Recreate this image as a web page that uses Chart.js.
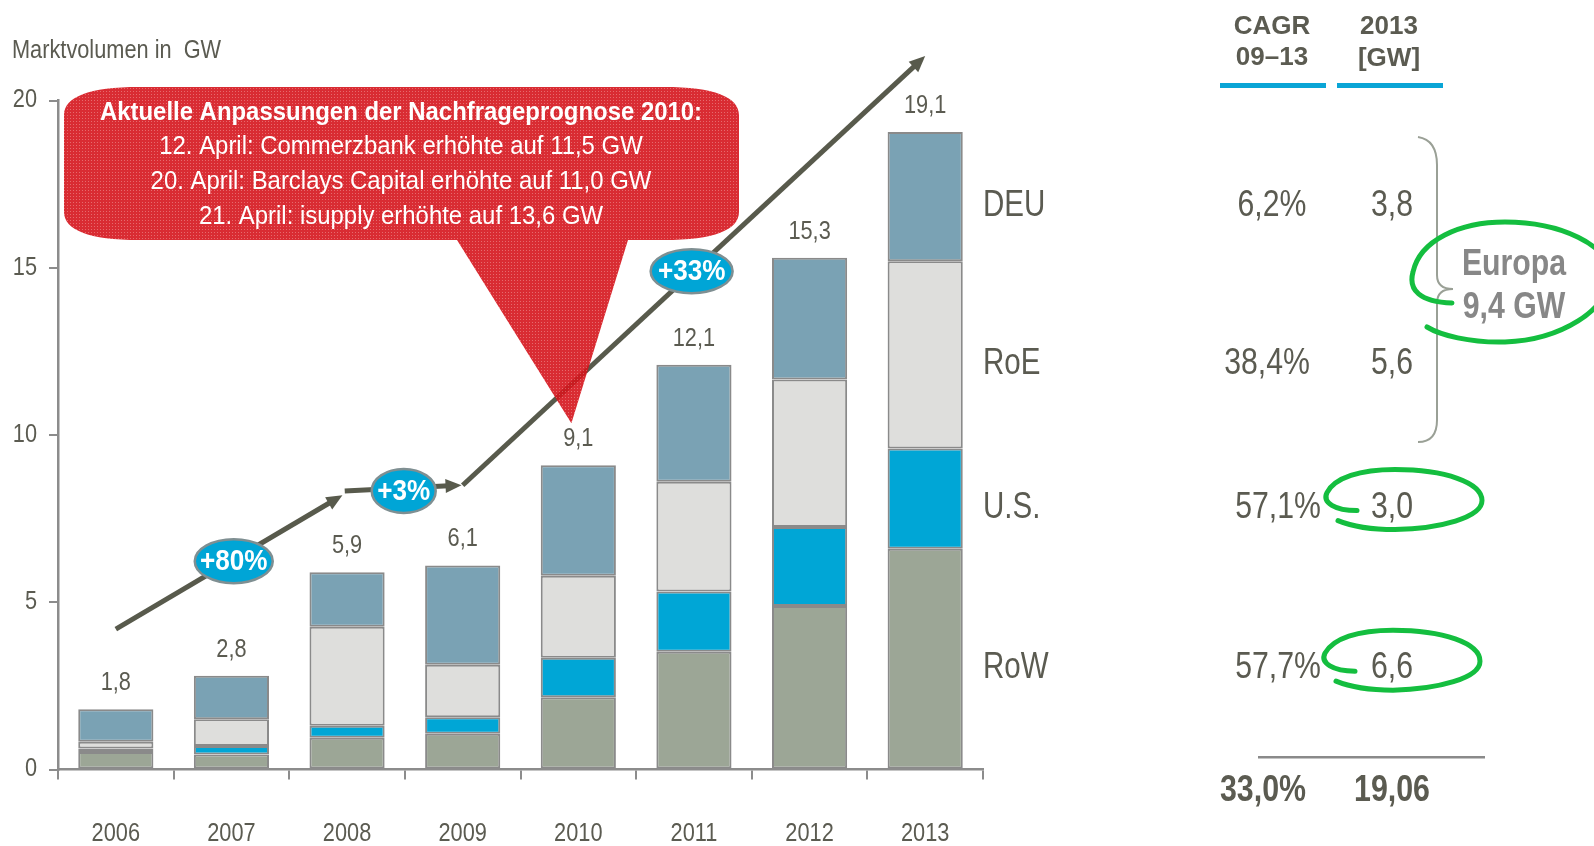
<!DOCTYPE html>
<html><head><meta charset="utf-8">
<script src="https://cdn.jsdelivr.net/npm/chart.js@4.4.1/dist/chart.umd.min.js"></script>
<style>html,body{margin:0;padding:0;background:#fff;overflow:hidden}#wrap{position:relative;width:1594px;height:846px}canvas{display:block}</style>
</head><body><div id="wrap"><canvas id="c" width="1594" height="846"></canvas></div>
<script>
// ---------- data ----------
const years = ['2006','2007','2008','2009','2010','2011','2012','2013'];
const rowValues = [0.52, 0.45, 0.95, 1.07, 2.16, 3.52, 4.89, 6.60];
const usValues  = [0.11, 0.25, 0.36, 0.49, 1.18, 1.80, 2.36, 3.00];
const roeValues = [0.20, 0.80, 2.96, 1.57, 2.45, 3.28, 4.41, 5.60];
const deuValues = [0.97, 1.30, 1.63, 2.97, 3.31, 3.50, 3.64, 3.86];
const seriesNames = ['RoW', 'U.S.', 'RoE', 'DEU'];
const cagrLabels = ['57,7%', '57,1%', '38,4%', '6,2%'];
const gw2013Labels = ['6,6', '3,0', '5,6', '3,8'];
const totalCagr = '33,0%';
const totalGw = '19,06';
const yTickValues = [0, 5, 10, 15, 20];
const growthLabels = ['+80%', '+3%', '+33%'];
const calloutTitle = 'Aktuelle Anpassungen der Nachfrageprognose 2010:';
const calloutLines = ['12. April: Commerzbank erhöhte auf 11,5 GW', '20. April: Barclays Capital erhöhte auf 11,0 GW', '21. April: isupply erhöhte auf 13,6 GW'];
const europaLines = ['Europa', '9,4 GW'];

const TXT = '#5b5b51';
const AX = '#8c8c8c';
const fam = k => 'Nx' + k + ', "Liberation Sans", Arial, sans-serif';
const WIDE = '"Liberation Sans",Arial,sans-serif';

// condensed text rendering (no narrow font installed): families tagged NxNN are drawn horizontally scaled
(function () {
  const P = CanvasRenderingContext2D.prototype;
  const ft = P.fillText, mt = P.measureText;
  P.fillText = function (s, x, y, mw) {
    const m = /Nx(\d+)/.exec(this.font);
    if (!m) return mw === undefined ? ft.call(this, s, x, y) : ft.call(this, s, x, y, mw);
    const k = +m[1] / 100;
    this.save(); this.translate(x, y); this.scale(k, 1); ft.call(this, s, 0, 0); this.restore();
  };
  P.measureText = function (s) {
    const r = mt.call(this, s);
    const m = /Nx(\d+)/.exec(this.font);
    if (!m) return r;
    const k = +m[1] / 100;
    return {width: r.width * k, actualBoundingBoxAscent: r.actualBoundingBoxAscent, actualBoundingBoxDescent: r.actualBoundingBoxDescent,
      actualBoundingBoxLeft: r.actualBoundingBoxLeft * k, actualBoundingBoxRight: r.actualBoundingBoxRight * k};
  };
})();

function txt(ctx, s, x, y, size, opt = {}) {
  ctx.save();
  ctx.font = (opt.bold ? 'bold ' : '') + size + 'px ' + (opt.wide ? WIDE : fam(opt.k || 87));
  ctx.fillStyle = opt.color || TXT;
  ctx.textAlign = opt.align || 'center';
  ctx.textBaseline = 'middle';
  ctx.fillText(s, x, y);
  ctx.restore();
}
function head(ctx, x1, y1, x2, y2, len, w) {
  const a = Math.atan2(y2 - y1, x2 - x1);
  ctx.beginPath();
  ctx.moveTo(x2, y2);
  ctx.lineTo(x2 - len * Math.cos(a) + w * Math.sin(a), y2 - len * Math.sin(a) - w * Math.cos(a));
  ctx.lineTo(x2 - len * Math.cos(a) - w * Math.sin(a), y2 - len * Math.sin(a) + w * Math.cos(a));
  ctx.closePath();
  ctx.fill();
}
function arrow(ctx, x1, y1, x2, y2) {
  const a = Math.atan2(y2 - y1, x2 - x1);
  const len = 16;
  ctx.beginPath();
  ctx.moveTo(x1, y1);
  ctx.lineTo(x2 - len * 0.8 * Math.cos(a), y2 - len * 0.8 * Math.sin(a));
  ctx.stroke();
  head(ctx, x1, y1, x2, y2, len, 7);
}
function handEllipse(ctx, cx, cy) {
  ctx.beginPath();
  ctx.moveTo(cx - 38, cy + 3);
  ctx.bezierCurveTo(cx - 60, cy + 3, cx - 73, cy - 5, cx - 68, cy - 15);
  ctx.bezierCurveTo(cx - 60, cy - 30, cx - 35, cy - 38, cx, cy - 38);
  ctx.bezierCurveTo(cx + 50, cy - 38, cx + 87, cy - 25, cx + 87, cy - 7);
  ctx.bezierCurveTo(cx + 87, cy + 10, cx + 45, cy + 21, cx, cy + 22);
  ctx.bezierCurveTo(cx - 25, cy + 22, cx - 45, cy + 18, cx - 57, cy + 13);
  ctx.stroke();
}

const overlay = {
  id: 'overlay',
  afterDraw(chart) {
    const ctx = chart.ctx;
    const xs = chart.scales.x, ys = chart.scales.y;
    const X = v => xs.getPixelForValue(v), Y = v => ys.getPixelForValue(v);
    const ca = chart.chartArea;

    // title
    txt(ctx, 'Marktvolumen in  GW', 12, 51, 25, {align: 'left', k: 87});

    // totals above bars
    years.forEach((y, i) => {
      const t = rowValues[i] + usValues[i] + roeValues[i] + deuValues[i];
      txt(ctx, t.toFixed(1).replace('.', ','), X(i), Y(t) - 26, 25, {k: 87});
    });

    // growth arrow
    ctx.save();
    ctx.strokeStyle = '#585a4c'; ctx.fillStyle = '#585a4c';
    ctx.lineWidth = 5; ctx.lineCap = 'butt';
    arrow(ctx, X(0), Y(4.2), X(1.96), Y(8.2));
    arrow(ctx, X(1.98), Y(8.33), X(2.99), Y(8.5));
    arrow(ctx, X(3.0), Y(8.5), X(7.0), Y(21.33));
    ctx.restore();

    // growth bubbles
    const bub = [[1.02, 6.23, 39], [2.49, 8.33, 32], [4.98, 14.9, 41]];
    bub.forEach((b, i) => {
      ctx.save();
      ctx.beginPath();
      ctx.ellipse(X(b[0]), Y(b[1]), b[2], 22, 0, 0, Math.PI * 2);
      ctx.fillStyle = '#00a5d6'; ctx.fill();
      ctx.strokeStyle = '#7f8f92'; ctx.lineWidth = 2.5; ctx.stroke();
      ctx.restore();
      txt(ctx, growthLabels[i], X(b[0]), Y(b[1]) + 1, 29, {bold: true, color: '#ffffff', k: 90});
    });

    // red callout
    const pc = document.createElement('canvas'); pc.width = 3; pc.height = 3;
    const pctx = pc.getContext('2d');
    pctx.fillStyle = '#d5161d'; pctx.fillRect(0, 0, 3, 3);
    pctx.fillStyle = '#e45a5e'; pctx.fillRect(1, 1, 1, 1);
    const pat = ctx.createPattern(pc, 'repeat');
    const L = 64, R = 739, T = 87, B = 240, rx = 75, ry = 28;
    ctx.save();
    ctx.globalAlpha = 0.9;
    ctx.beginPath();
    ctx.moveTo(L + rx, T);
    ctx.lineTo(R - rx, T);
    ctx.bezierCurveTo(R - 25, T, R, T + 10, R, T + ry);
    ctx.lineTo(R, B - ry);
    ctx.bezierCurveTo(R, B - 10, R - 25, B, R - rx, B);
    ctx.lineTo(628, B);
    ctx.lineTo(X(3.94), Y(10.35));
    ctx.lineTo(457, B);
    ctx.lineTo(L + rx, B);
    ctx.bezierCurveTo(L + 25, B, L, B - 10, L, B - ry);
    ctx.lineTo(L, T + ry);
    ctx.bezierCurveTo(L, T + 10, L + 25, T, L + rx, T);
    ctx.closePath();
    ctx.fillStyle = pat; ctx.fill();
    ctx.restore();
    txt(ctx, calloutTitle, 401, 113, 26, {bold: true, color: '#ffffff', k: 92});
    calloutLines.forEach((s, i) => txt(ctx, s, 401, 147 + i * 35, 26, {color: '#ffffff', k: 92}));

    // series labels + table rows anchored to 2013 stack
    const last = years.length - 1;
    const stacks = [rowValues, usValues, roeValues, deuValues];
    let cum = 0;
    const cagrX = [1278, 1278, 1267, 1272];
    const rowY = [];
    stacks.forEach((arr, k) => {
      const mid = cum + arr[last] / 2; cum += arr[last];
      const yy = Y(mid) + 9; rowY.push(yy);
      txt(ctx, seriesNames[k], ca.right, yy, 36, {align: 'left', k: 82});
      txt(ctx, cagrLabels[k], cagrX[k], yy, 36, {k: 84});
      txt(ctx, gw2013Labels[k], 1392, yy, 36, {k: 84});
    });

    // headers
    txt(ctx, 'CAGR', 1272, 27, 26, {bold: true, wide: true});
    txt(ctx, '09–13', 1272, 58, 26, {bold: true, wide: true});
    txt(ctx, '2013', 1389, 27, 26, {bold: true, wide: true});
    txt(ctx, '[GW]', 1389, 59, 26, {bold: true, wide: true});
    ctx.save();
    ctx.fillStyle = '#0aa5d6';
    ctx.fillRect(1220, 83, 106, 5);
    ctx.fillRect(1337, 83, 106, 5);
    ctx.fillStyle = '#8a8a8a';
    ctx.fillRect(1258, 756, 227, 2.5);
    ctx.restore();
    txt(ctx, totalCagr, 1263, 791, 37, {bold: true, k: 82});
    txt(ctx, totalGw, 1392, 791, 37, {bold: true, k: 82});

    // brace
    ctx.save();
    ctx.strokeStyle = '#9aa096'; ctx.lineWidth = 2;
    ctx.beginPath();
    ctx.moveTo(1418, 137);
    ctx.quadraticCurveTo(1437, 140, 1437, 165);
    ctx.lineTo(1437, 275);
    ctx.quadraticCurveTo(1437, 289, 1453, 289);
    ctx.quadraticCurveTo(1437, 289, 1437, 303);
    ctx.lineTo(1437, 420);
    ctx.quadraticCurveTo(1437, 442, 1418, 442);
    ctx.stroke();
    ctx.restore();

    // Europa
    txt(ctx, europaLines[0], 1514, 265, 36, {bold: true, color: '#878787', k: 84});
    txt(ctx, europaLines[1], 1514, 308, 36, {bold: true, color: '#878787', k: 84});

    // green hand-drawn ellipses
    ctx.save();
    ctx.strokeStyle = '#14be3f'; ctx.lineWidth = 5; ctx.lineCap = 'round';
    handEllipse(ctx, 1395, rowY[1]);
    handEllipse(ctx, 1393, rowY[0]);
    ctx.beginPath();
    ctx.moveTo(1452, 303);
    ctx.bezierCurveTo(1420, 302, 1408, 290, 1413, 272);
    ctx.bezierCurveTo(1420, 240, 1460, 222, 1505, 222);
    ctx.bezierCurveTo(1560, 222, 1610, 245, 1610, 275);
    ctx.bezierCurveTo(1610, 310, 1560, 340, 1505, 342);
    ctx.bezierCurveTo(1470, 343, 1440, 335, 1427, 327);
    ctx.stroke();
    ctx.restore();
  }
};

const common = {borderColor: '#8a8a8a', borderWidth: 2, borderSkipped: false, barPercentage: 0.65, categoryPercentage: 1};
new Chart(document.getElementById('c'), {
  type: 'bar',
  data: {
    labels: years,
    datasets: [
      Object.assign({label: seriesNames[0], data: rowValues, backgroundColor: '#9ca696'}, common),
      Object.assign({label: seriesNames[1], data: usValues, backgroundColor: '#00a6d6'}, common),
      Object.assign({label: seriesNames[2], data: roeValues, backgroundColor: '#dededc'}, common),
      Object.assign({label: seriesNames[3], data: deuValues, backgroundColor: '#7aa2b4'}, common)
    ]
  },
  options: {
    responsive: false, animation: false, devicePixelRatio: 1,
    layout: {padding: {left: 0, top: 100.6, right: 611, bottom: 0}},
    plugins: {legend: {display: false}, tooltip: {enabled: false}},
    scales: {
      x: {
        stacked: true, offset: true,
        grid: {display: true, drawOnChartArea: false, drawTicks: true, tickLength: 10, color: AX, lineWidth: 2, offset: true},
        border: {display: true, color: AX, width: 2.5},
        ticks: {color: TXT, font: {family: fam(87), size: 25}, padding: 40, maxRotation: 0},
        afterFit(s) { s.height = 846 - 769.5; }
      },
      y: {
        stacked: true, min: 0, max: 20,
        afterBuildTicks(s) { s.ticks = yTickValues.map(v => ({value: v})); },
        grid: {display: true, drawOnChartArea: false, drawTicks: true, tickLength: 9, color: AX, lineWidth: 2},
        border: {display: true, color: AX, width: 2.5},
        ticks: {color: TXT, font: {family: fam(87), size: 25}, padding: 12},
        afterFit(s) { s.width = 58; }
      }
    }
  },
  plugins: [overlay]
});
</script>
</body></html>
